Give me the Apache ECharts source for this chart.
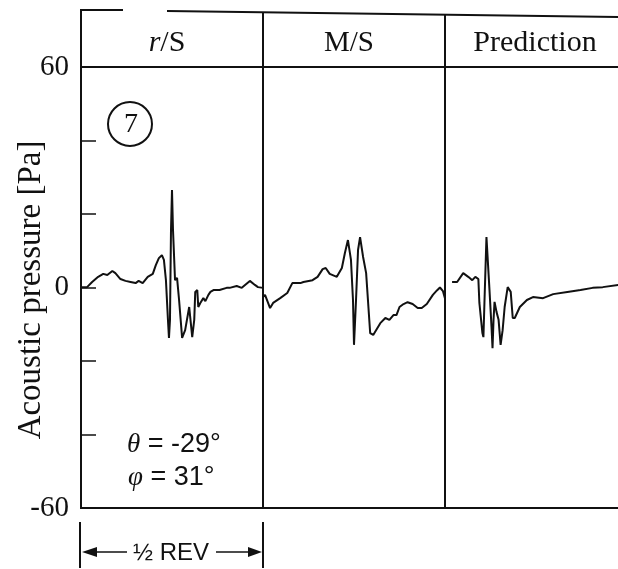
<!DOCTYPE html>
<html>
<head>
<meta charset="utf-8">
<script src="https://cdn.jsdelivr.net/npm/echarts/dist/echarts.min.js"></script>
<style>html,body{margin:0;padding:0;background:#fff}#c{width:618px;height:569px}</style>
</head>
<body>
<div id="c"></div>
<script>
// Panel titles
const panelTitles = ['r/S', 'M/S', 'Prediction'];
const yAxisTitle = 'Acoustic pressure [Pa]';
// Y axis ticks (labelled ones)
const yLabelled = [60, 0, -60];
// Angle within half revolution (deg) and acoustic pressure (Pa)
const rsAngle = [0,6,11,17,22,26,31,34,39,44,49,54,57,61,66,71,74,77,80,82,84,86,87,88,89,90,91,93,95,97,100,103,107,110,112,113,115,116,118,121,123,126,128,131,137,144,147,154,159,167,172,175,180];
const rsPressure = [0.1,0.1,1.5,2.9,3.7,3.4,4.5,3.9,2.3,1.8,1.5,1.2,1.8,1.2,2.9,3.7,6.1,8.0,8.8,7.5,2.0,-8.8,-13.7,-8.8,15.6,26.5,15.6,2.0,2.6,-3.4,-13.7,-11.6,-5.3,-13.5,-8.8,-1.2,-0.7,-5.3,-4.2,-2.9,-3.7,-2.0,-1.2,-0.7,-0.7,-0.1,-0.1,0.4,-0.1,1.8,0.7,0.1,-0.1];
const msAngle = [0,2,7,10,17,24,29,34,37,40,49,54,59,62,66,73,78,81,84,87,89,90,92,94,96,99,102,106,109,116,121,125,129,132,135,139,143,148,153,157,162,168,172,175,178,180];
const msPressure = [-2.6,-2.0,-5.6,-4.2,-2.9,-1.5,1.2,1.2,1.2,1.5,2.0,2.9,5.0,5.3,3.7,2.9,5.3,9.4,12.9,7.5,-3.4,-15.6,-3.4,10.2,13.7,8.3,3.9,-12.4,-12.9,-9.7,-8.3,-8.8,-7.5,-7.5,-5.3,-4.5,-4.0,-4.5,-5.6,-5.6,-4.5,-2.0,-0.8,0,-1.0,-3.0];
const prAngle = [7,12,18,23,27,30,33,34,37,38,39,41,42,44,46,47,48,49,51,53,55,57,59,62,65,67,69,74,81,87,97,107,121,134,146,156,172];
const prPressure = [1.5,1.5,3.9,2.9,2.0,2.9,2.3,-4.2,-12.4,-13.5,-4.2,13.7,13.7,-0.7,-10.7,-16.5,-8.8,-3.9,-6.7,-8.8,-15.6,-11.6,-5.3,0.1,-1.2,-8.3,-8.3,-5.3,-3.4,-2.6,-2.9,-1.8,-1.2,-0.7,-0.1,0.1,0.7];

const panels = [[rsAngle, rsPressure], [msAngle, msPressure], [prAngle, prPressure]];
const INK = '#111';
const SERIF = 'Liberation Serif';
const GL = 81, GW = 182, GT = 67, GH = 441;

const chart = echarts.init(document.getElementById('c'), null, {renderer: 'canvas'});

const option = {
  backgroundColor: '#fff',
  animation: false,
  grid: panels.map((p, i) => ({
    left: GL + i * GW, top: GT, width: GW, height: GH,
    containLabel: false, outerBoundsMode: 'none',
    show: true, borderColor: INK, borderWidth: 2, backgroundColor: 'transparent'
  })),
  xAxis: panels.map((p, i) => ({
    type: 'value', gridIndex: i, min: 0, max: 180, show: false
  })),
  yAxis: panels.map((p, i) => ({
    type: 'value', gridIndex: i, min: -60, max: 60, interval: 20,
    show: i === 0,
    axisLine: {show: false},
    splitLine: {show: false},
    axisTick: {show: true, inside: true, length: 15, lineStyle: {color: INK, width: 1.5}},
    axisLabel: {
      margin: 12, fontFamily: SERIF, fontSize: 29, color: INK,
      formatter: v => yLabelled.indexOf(v) >= 0 ? String(v) : ''
    }
  })),
  series: panels.map((p, i) => ({
    type: 'line', xAxisIndex: i, yAxisIndex: i,
    symbol: 'none', smooth: false,
    lineStyle: {color: INK, width: 2},
    data: p[0].map((a, k) => [a, p[1][k]])
  })),
  graphic: [
    // y-axis title
    {type: 'text', x: 31, y: 290, rotation: Math.PI / 2, style: {
      text: yAxisTitle, font: '33px "Liberation Serif"', fill: INK, align: 'center', verticalAlign: 'middle'}},
    // header frame
    {type: 'line', shape: {x1: 80, y1: 10, x2: 123, y2: 10}, style: {stroke: INK, lineWidth: 2}},
    {type: 'line', shape: {x1: 167, y1: 11, x2: 618, y2: 17}, style: {stroke: INK, lineWidth: 2}},
    {type: 'line', shape: {x1: 81, y1: 10, x2: 81, y2: 67}, style: {stroke: INK, lineWidth: 2}},
    {type: 'line', shape: {x1: 263, y1: 12, x2: 263, y2: 67}, style: {stroke: INK, lineWidth: 2}},
    {type: 'line', shape: {x1: 445, y1: 14, x2: 445, y2: 67}, style: {stroke: INK, lineWidth: 2}},
    {type: 'text', x: 167, y: 43, style: {
      text: '{i|r}/S', rich: {i: {fontStyle: 'italic', fontFamily: SERIF, fontSize: 30, fill: INK}},
      font: '30px "Liberation Serif"', fill: INK, align: 'center', verticalAlign: 'middle'}},
    {type: 'text', x: 349, y: 43, style: {text: panelTitles[1], font: '29px "Liberation Serif"', fill: INK, align: 'center', verticalAlign: 'middle'}},
    {type: 'text', x: 535, y: 43, style: {text: panelTitles[2], font: '30px "Liberation Serif"', fill: INK, align: 'center', verticalAlign: 'middle'}},
    // circled number
    {type: 'circle', shape: {cx: 130, cy: 124, r: 22}, style: {stroke: INK, fill: 'none', lineWidth: 2}},
    {type: 'text', x: 131, y: 125, style: {text: '7', font: '28px "Liberation Serif"', fill: INK, align: 'center', verticalAlign: 'middle'}},
    // angles
    {type: 'text', x: 127, y: 445, style: {
      text: '{g|θ} = -29°', font: '27px "Liberation Sans"', fill: INK, align: 'left', verticalAlign: 'middle',
      rich: {g: {fontStyle: 'italic', fontFamily: SERIF, fontSize: 27, fill: INK}}}},
    {type: 'text', x: 128, y: 478, style: {
      text: '{g|φ} = 31°', font: '27px "Liberation Sans"', fill: INK, align: 'left', verticalAlign: 'middle',
      rich: {g: {fontStyle: 'italic', fontFamily: SERIF, fontSize: 27, fill: INK}}}},
    // half rev annotation
    {type: 'line', shape: {x1: 80, y1: 522, x2: 80, y2: 568}, style: {stroke: INK, lineWidth: 2}},
    {type: 'line', shape: {x1: 263, y1: 522, x2: 263, y2: 568}, style: {stroke: INK, lineWidth: 2}},
    {type: 'line', shape: {x1: 96, y1: 552, x2: 127, y2: 552}, style: {stroke: INK, lineWidth: 1.5}},
    {type: 'polygon', shape: {points: [[82, 552], [97, 547], [97, 557]]}, style: {fill: INK}},
    {type: 'line', shape: {x1: 216, y1: 552, x2: 249, y2: 552}, style: {stroke: INK, lineWidth: 1.5}},
    {type: 'polygon', shape: {points: [[262, 552], [248, 547], [248, 557]]}, style: {fill: INK}},
    {type: 'text', x: 171, y: 553, style: {text: '½ REV', font: '24px "Liberation Sans"', fill: INK, align: 'center', verticalAlign: 'middle'}}
  ]
};
chart.setOption(option);
</script>
</body>
</html>
